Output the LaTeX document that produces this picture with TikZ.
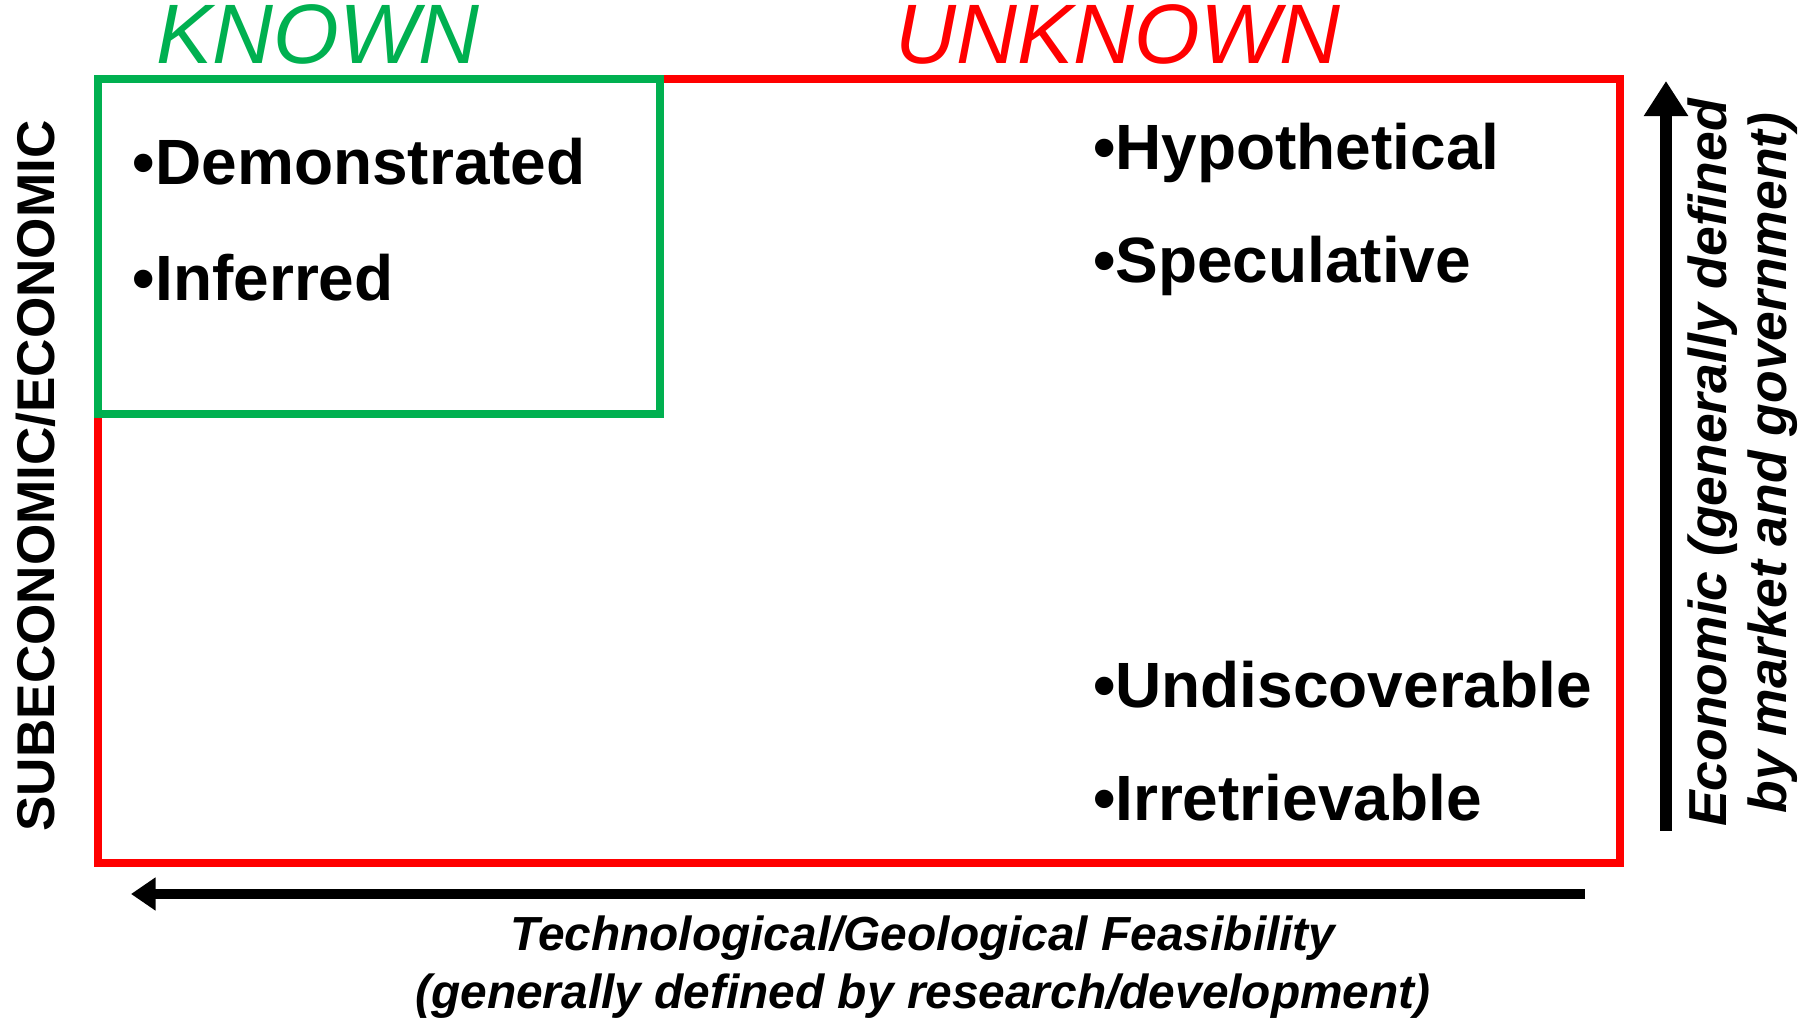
\documentclass[tikz,border=0pt]{standalone}
\usepackage{fontspec}
\setmainfont{Liberation Sans}
\usetikzlibrary{arrows.meta}
\definecolor{knowngreen}{RGB}{0,176,80}
\definecolor{unkred}{RGB}{255,0,0}

\begin{document}
\begin{tikzpicture}[x=0.01cm, y=-0.01cm]
\tikzstyle{every node} = [inner sep=0pt, outer sep=0pt]
\tikzstyle{item} = [anchor=base west, font=\bfseries\fontsize{18.2}{20}\selectfont]
\tikzstyle{head} = [anchor=base, font=\itshape\fontsize{24}{26}\selectfont]
\tikzstyle{axis} = [align=center, font=\bfseries\itshape\fontsize{13.6}{16.5}\selectfont]
\useasboundingbox (0,0) rectangle (1814,1019);
\draw[unkred, line width=2pt] (98,79) rectangle (1620,863);
\draw[knowngreen, line width=2pt] (98,79) rectangle (660,414);
\node[head, text=knowngreen] (known) at (318,64) {KNOWN};
\node[head, text=unkred] (unknown) at (1118,64) {UNKNOWN};
\node[item] (dem) at (133,185) {•Demonstrated};
\node[item] (inf) at (133,301) {•Inferred};
\node[item] (hyp) at (1093,170) {•Hypothetical};
\node[item] (spe) at (1093,283) {•Speculative};
\node[item] (und) at (1093,708) {•Undiscoverable};
\node[item] (irr) at (1093,821) {•Irretrievable};
\node[rotate=90, font=\bfseries\fontsize{15.1}{17}\selectfont] (sub) at (36,476) {SUBECONOMIC/ECONOMIC};
\node[axis, rotate=90, font=\bfseries\itshape\fontsize{15.2}{17}\selectfont] (eco) at (1743,463)
	{Economic (generally defined\\by market and government)};
\node[axis] (feas) at (923,967)
	{Technological/Geological Feasibility\\(generally defined by research/development)};
\coordinate (eb) at (1666,831);
\coordinate (et) at (1666,81);
\coordinate (fr) at (1585,894);
\coordinate (fl) at (131,894);
\draw[line width=3.4pt, -{Triangle[width=12pt, length=10pt]}] (eb) -- (et);
\draw[line width=2.6pt, -{Triangle[width=9pt, length=7pt]}] (fr) -- (fl);
\end{tikzpicture}
\end{document}
